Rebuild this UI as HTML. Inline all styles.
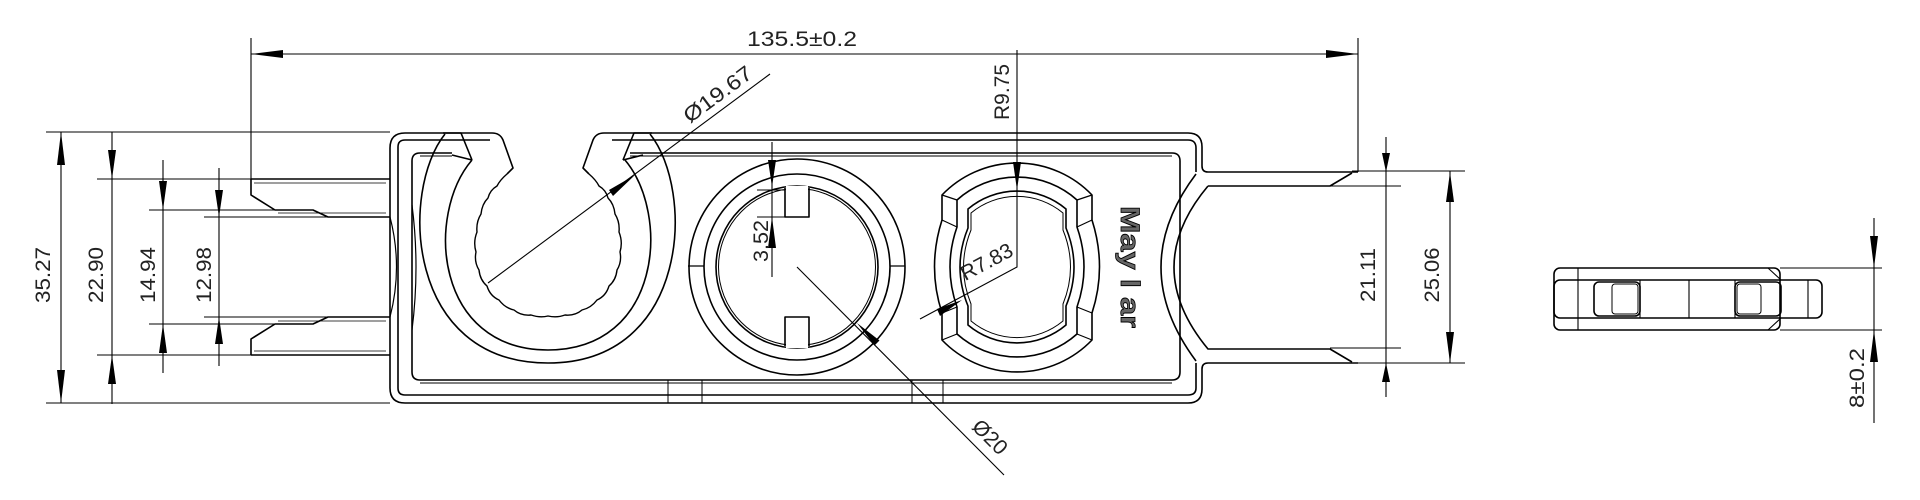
<!DOCTYPE html>
<html><head><meta charset="utf-8"><style>html,body{margin:0;padding:0;background:#fff}svg{display:block}</style></head>
<body>
<svg width="1920" height="500" viewBox="0 0 1920 500" xmlns="http://www.w3.org/2000/svg" font-family="Liberation Sans, sans-serif">
<g fill="none" stroke="#000" stroke-width="1.6" stroke-linejoin="round">
<path d="M405,133 L492,133 Q500,133 503,140 L513,168 L507,174"/>
<path d="M604,133 Q596,133 593,140 L583,168 L589,174"/>
<path d="M604,133 L1188,133 Q1202,133 1202,147 L1202,166 Q1202,172 1208,172 L1358,172"/>
<path d="M1358,363 L1208,363 Q1202,363 1202,369 L1202,389 Q1202,403 1188,403 L405,403 Q390,403 390,388 L390,148 Q390,133 405,133"/>
<path d="M490,140 L405,140 Q398,140 398,147 L398,388 Q398,395 405,395 L1188,395 Q1196,395 1196,388 L1196,363"/>
<path d="M612,140 L1188,140 Q1196,140 1196,148 L1196,172"/>
<path d="M420,153 L452,153 M630,153 L1172,153 Q1180,153 1180,161 L1180,372 Q1180,380 1172,380 L420,380 Q412,380 412,372 L412,161 Q412,153 420,153"/>
<path d="M420,156 L452,156 M630,156 L1172,156 M420,383 L1172,383" stroke-width="1"/>
<path d="M668,380 L668,403 M702,380 L702,403 M912,380 L912,403 M943,380 L943,403" stroke-width="1"/>
<path d="M390,217 Q403,267 390,317 M412,205 Q420,267 412,330" stroke-width="1.2"/>
<path d="M251,179 L390,179 M251,179 L251,195 L275,210 L313,210 L328,217 L390,217"/>
<path d="M251,355 L390,355 M251,355 L251,339 L275,324 L313,324 L328,317 L390,317"/>
<path d="M254,183 L386,183 M278,213 L386,213 M254,351 L386,351 M278,321 L386,321" stroke-width="0.8"/>
<path d="M1208,186 L1330,186 L1352,173 M1208,186 Q1140,267 1208,349 L1330,349 L1352,362"/>
<path d="M1196,174 Q1126,267 1196,361"/>
<path d="M445,134 C400,190 405,363 548,363 C690,363 695,190 650,134"/>
<path d="M472,160 C425,215 435,350 548,350 C661,350 671,215 625,160"/>
<path d="M443,133 L461,133 L472,160 M452,155 L472,160"/>
<path d="M652,133 L634,133 L623,160 M643,155 L623,160"/>
<path d="M507,174 Q500,180 497,186 Q490,190 488,198 Q482,204 481,214 Q476,222 477,232 Q473,242 476,252 Q474,262 479,270 Q480,280 487,286 Q490,296 499,300 Q505,308 514,310 Q521,316 531,315 Q540,318 548,316 Q557,318 565,315 Q575,316 582,310 Q591,308 597,300 Q606,296 609,286 Q616,280 617,270 Q622,262 620,252 Q623,242 619,232 Q620,222 615,214 Q614,204 608,198 Q606,190 599,186 Q596,180 589,174" stroke-width="1.4"/>
<circle cx="797" cy="267" r="108"/>
<circle cx="797" cy="267" r="93"/>
<circle cx="797" cy="267" r="81"/>
<circle cx="797" cy="267" r="78.5" stroke-width="1"/>
<rect x="786" y="186" width="22" height="30" fill="#fff" stroke="none"/>
<rect x="786" y="318" width="22" height="30" fill="#fff" stroke="none"/>
<path d="M785,188 L785,217 L809,217 L809,188 M785,346 L785,317 L809,317 L809,346"/>
<path d="M688,266 L704,266 M890,266 L905,266" stroke-width="1.2"/>
<path d="M942,195 A104,104 0 0 1 1092,195 L1092,220 Q1107,267 1092,313 L1092,340 A104,104 0 0 1 942,340 L942,313 Q927,267 942,220 Z"/>
<path d="M957,200 A90,90 0 0 1 1077,200 L1077,227 Q1091,267 1077,307 L1077,334 A90,90 0 0 1 957,334 L957,307 Q943,267 957,227 Z"/>
<path d="M942,195 L957,200 M942,220 L957,227 M1092,195 L1077,200 M1092,220 L1077,227 M942,313 L957,307 M942,340 L957,334 M1092,313 L1077,307 M1092,340 L1077,334" stroke-width="1.2"/>
<path d="M968,209 A76,76 0 0 1 1066,209 L1066,228 Q1082,267 1066,306 L1066,325 A76,76 0 0 1 968,325 L968,306 Q952,267 968,228 Z"/>
<path d="M971,213 A72,72 0 0 1 1063,213 L1063,230 Q1078,267 1063,304 L1063,321 A72,72 0 0 1 971,321 L971,304 Q956,267 971,230 Z" stroke-width="1"/>
<rect x="1554" y="268" width="226" height="62" rx="6"/>
<rect x="1554" y="280" width="268" height="38" rx="6"/>
<path d="M1768,268 L1781,280 M1768,330 L1781,318 M1578,268 L1578,330 M1640,280 L1640,318 M1689,280 L1689,318 M1735,280 L1735,318 M1808,280 L1808,318" stroke-width="1.1"/>
<rect x="1594" y="282" width="46" height="34" rx="5"/>
<rect x="1612" y="284" width="26" height="30" rx="3" stroke-width="1"/>
<rect x="1735" y="282" width="46" height="34" rx="5"/>
<rect x="1737" y="284" width="24" height="30" rx="3" stroke-width="1"/>
</g>
<g fill="none" stroke="#000" stroke-width="1.1">
<path d="M251,54 L1358,54 M251,38 L251,179 M1358,38 L1358,172"/>
<path d="M46,132 L390,132 M46,403 L390,403 M61,132 L61,403"/>
<path d="M97,179 L251,179 M97,355 L251,355 M112,132 L112,404"/>
<path d="M149,210 L276,210 M149,324 L276,324 M163,160 L163,373"/>
<path d="M204,217 L328,217 M204,317 L328,317 M219,168 L219,366"/>
<path d="M1352,171 L1465,171 M1330,186 L1401,186 M1330,348 L1401,348 M1352,363 L1465,363 M1386,137 L1386,397 M1450,171 L1450,363"/>
<path d="M1780,268 L1882,268 M1780,330 L1882,330 M1874,218 L1874,423"/>
<path d="M772,142 L772,277 M757,190 L785,190 M757,217 L785,217"/>
<path d="M1017,50 L1017,267 L920,319"/>
<path d="M488,283 L770,74"/>
<path d="M797,267 L1004,475"/>
</g>
<g fill="#000" stroke="none">
<polygon points="251,54 283,50 283,58"/><polygon points="1358,54 1326,50 1326,58"/>
<polygon points="61,132 57,165 65,165"/><polygon points="61,403 57,370 65,370"/>
<polygon points="112,179 108,150 116,150"/><polygon points="112,355 108,384 116,384"/>
<polygon points="163,210 159,181 167,181"/><polygon points="163,324 159,353 167,353"/>
<polygon points="219,217 215,190 223,190"/><polygon points="219,317 215,344 223,344"/>
<polygon points="1386,172 1382,153 1390,153"/><polygon points="1386,363 1382,382 1390,382"/>
<polygon points="1450,172 1446,202 1454,202"/><polygon points="1450,363 1446,332 1454,332"/>
<polygon points="1874,268 1870,236 1878,236"/><polygon points="1874,330 1870,362 1878,362"/>
<polygon points="772,187 768,160 776,160"/><polygon points="772,217 768,248 776,248"/>
<polygon points="1017,190 1013,162 1021,162"/>
<polygon points="635,175 613,196 609,190"/>
<polygon points="857,323 874.5,345.5 879.5,340.5"/>
<polygon points="962,300 937,309 940,316"/>
</g>
<g fill="#222" font-size="21">
<text x="747" y="46" textLength="110" lengthAdjust="spacingAndGlyphs">135.5±0.2</text>
<text transform="translate(50,275) rotate(-90)" text-anchor="middle" textLength="56" lengthAdjust="spacingAndGlyphs">35.27</text>
<text transform="translate(103,275) rotate(-90)" text-anchor="middle" textLength="56" lengthAdjust="spacingAndGlyphs">22.90</text>
<text transform="translate(155,275) rotate(-90)" text-anchor="middle" textLength="56" lengthAdjust="spacingAndGlyphs">14.94</text>
<text transform="translate(211,275) rotate(-90)" text-anchor="middle" textLength="56" lengthAdjust="spacingAndGlyphs">12.98</text>
<text transform="translate(1375,275) rotate(-90)" text-anchor="middle" textLength="54" lengthAdjust="spacingAndGlyphs">21.11</text>
<text transform="translate(1439,275) rotate(-90)" text-anchor="middle" textLength="55" lengthAdjust="spacingAndGlyphs">25.06</text>
<text transform="translate(1864,378) rotate(-90)" text-anchor="middle" textLength="60" lengthAdjust="spacingAndGlyphs">8±0.2</text>
<text transform="translate(1009,92) rotate(-90)" text-anchor="middle" textLength="56" lengthAdjust="spacingAndGlyphs">R9.75</text>
<text transform="translate(768,241) rotate(-90)" text-anchor="middle" textLength="42" lengthAdjust="spacingAndGlyphs">3.52</text>
<text transform="translate(722,100) rotate(-36.5)" text-anchor="middle" textLength="80" lengthAdjust="spacingAndGlyphs">Ø19.67</text>
<text transform="translate(990,268) rotate(-28)" text-anchor="middle" textLength="56" lengthAdjust="spacingAndGlyphs">R7.83</text>
<text transform="translate(985,442) rotate(45)" text-anchor="middle" textLength="40" lengthAdjust="spacingAndGlyphs">Ø20</text>
<text transform="translate(1121,267) rotate(90)" text-anchor="middle" font-size="27" font-weight="bold" fill="#666" stroke="#000" stroke-width="0.8" textLength="122" lengthAdjust="spacingAndGlyphs">May l ar</text>
</g>
</svg>
</body></html>
